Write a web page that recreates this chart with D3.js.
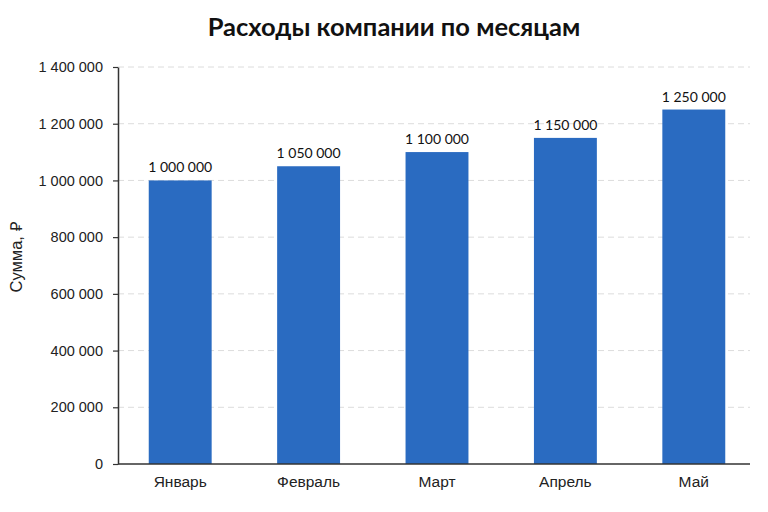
<!DOCTYPE html>
<html>
<head>
<meta charset="utf-8">
<title>Расходы компании по месяцам</title>
<script src="https://d3js.org/d3.v7.min.js"></script>
<style>
  body { margin: 0; background: #fff; }
  svg { display: block; }
</style>
</head>
<body>
<div id="chart"></div>
<script>
// data
var months = ["Январь", "Февраль", "Март", "Апрель", "Май"];
var expenses = [1000000, 1050000, 1100000, 1150000, 1250000];
var yTicks = [0, 200000, 400000, 600000, 800000, 1000000, 1200000, 1400000];

var W = 768, H = 512;
var plot = {left: 118, right: 750, top: 67, bottom: 464};

var svg = d3.select("#chart").append("svg")
    .attr("width", W)
    .attr("height", H);

var x = d3.scaleBand()
    .domain(months)
    .range([116, 758])
    .paddingInner(0.51)
    .paddingOuter(0.255);

var y = d3.scaleLinear()
    .domain([0, 1400000])
    .range([plot.bottom, plot.top]);

// "1 000 000" style with plain spaces
var fmt = function(v) { return d3.format(",")(v).replace(/,/g, " "); };

// grid
svg.append("g")
    .selectAll("line")
    .data(yTicks.filter(function(d) { return d > 0; }))
    .enter().append("line")
        .attr("x1", plot.left)
        .attr("x2", plot.right)
        .attr("y1", function(d) { return y(d); })
        .attr("y2", function(d) { return y(d); })
        .attr("stroke", "#dcdcdc")
        .attr("stroke-width", 1)
        .attr("stroke-dasharray", "6,4");

// bars
svg.append("g")
    .selectAll("rect")
    .data(expenses)
    .enter().append("rect")
        .attr("x", function(d, i) { return x(months[i]); })
        .attr("y", function(d) { return y(d); })
        .attr("width", x.bandwidth())
        .attr("height", function(d) { return plot.bottom - y(d); })
        .attr("fill", "#2a6bc1");

// value labels
svg.append("g")
    .selectAll("text")
    .data(expenses)
    .enter().append("text")
        .attr("x", function(d, i) { return x(months[i]) + x.bandwidth() / 2; })
        .attr("y", function(d) { return y(d) - 8; })
        .attr("text-anchor", "middle")
        .style("font-family", "Lato, sans-serif")
        .style("font-size", "14px")
        .style("fill", "#111")
        .text(function(d) { return fmt(d); });

// y axis
var yAxis = svg.append("g")
    .attr("transform", "translate(" + plot.left + ",0)")
    .call(d3.axisLeft(y).tickValues(yTicks).tickSize(5).tickPadding(10).tickFormat(fmt).tickSizeOuter(0));
yAxis.select(".domain").attr("stroke", "#333").attr("stroke-width", 1.5);
yAxis.selectAll(".tick line").attr("stroke", "#333").attr("stroke-width", 1.2);
yAxis.selectAll("text")
    .style("font-family", "'Liberation Sans', Arial, sans-serif")
    .style("font-size", "14.5px")
    .style("fill", "#222");

// x axis
var xAxis = svg.append("g")
    .attr("transform", "translate(0," + plot.bottom + ")")
    .call(d3.axisBottom(x).tickSize(0).tickPadding(12));
xAxis.select(".domain")
    .attr("d", "M" + plot.left + ",0H" + plot.right)
    .attr("stroke", "#333").attr("stroke-width", 1.5);
xAxis.selectAll("text")
    .style("font-family", "'Liberation Sans', Arial, sans-serif")
    .style("font-size", "15.5px")
    .style("fill", "#222");

// title
svg.append("text")
    .attr("x", 394)
    .attr("y", 36)
    .attr("text-anchor", "middle")
    .style("font-family", "Lato, sans-serif")
    .style("font-weight", "bold")
    .style("font-size", "25.5px")
    .style("fill", "#111")
    .text("Расходы компании по месяцам");

// y label
svg.append("text")
    .attr("transform", "translate(22," + 257 + ") rotate(-90)")
    .attr("text-anchor", "middle")
    .style("font-family", "'Liberation Sans', Arial, sans-serif")
    .style("font-size", "16.5px")
    .style("fill", "#222")
    .text("Сумма, ₽");
</script>
</body>
</html>
